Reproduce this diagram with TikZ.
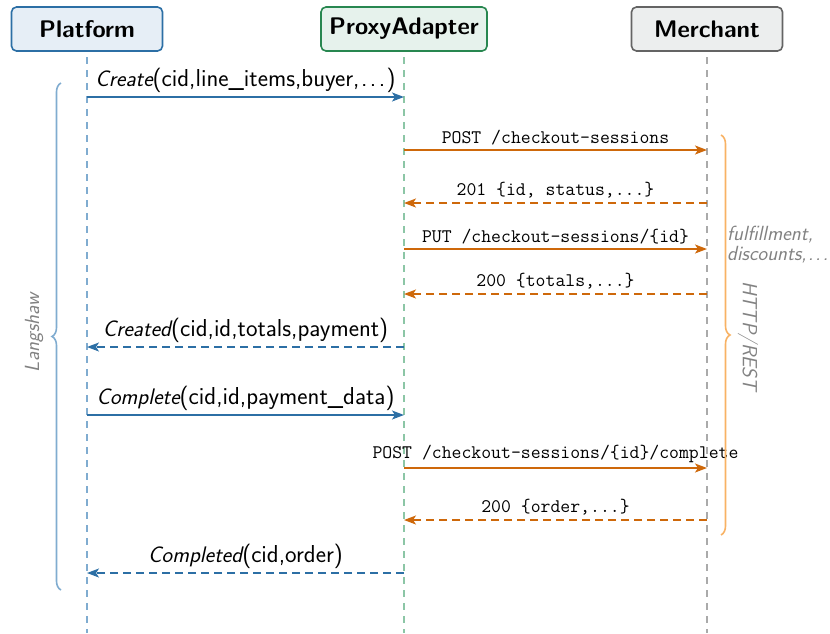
\RequirePackage{fix-cm}
\documentclass[tikz,border=0pt]{standalone}
\usetikzlibrary{arrows.meta,decorations.pathreplacing}
\definecolor{pblue}{RGB}{44,111,165}
\definecolor{pbluefill}{RGB}{230,238,246}
\definecolor{pbluelight}{RGB}{128,172,208}
\definecolor{agreen}{RGB}{40,135,80}
\definecolor{agreenfill}{RGB}{230,242,236}
\definecolor{agreenlight}{RGB}{140,198,166}
\definecolor{mgray}{RGB}{100,100,100}
\definecolor{mgrayfill}{RGB}{236,238,238}
\definecolor{mgraylight}{RGB}{170,170,170}
\definecolor{horange}{RGB}{206,104,10}
\definecolor{horangelight}{RGB}{248,178,100}
\definecolor{notegray}{RGB}{130,130,130}
\tikzset{
  hdr/.style={draw, line width=1.6pt, rounded corners=5pt, minimum width=151pt, minimum height=44pt,
    font=\sffamily\bfseries\fontsize{24}{28}\selectfont, inner sep=0pt},
  lifeline/.style={dash pattern=on 7pt off 6pt, line width=1.5pt},
  msgtip/.style={-{Stealth[length=12pt,width=9pt,inset=3pt]}},
  callmsg/.style={msgtip, pblue, line width=1.6pt},
  retmsg/.style={msgtip, pblue, line width=1.6pt, dash pattern=on 8pt off 5pt},
  httpmsg/.style={msgtip, horange, line width=1.6pt},
  httpret/.style={msgtip, horange, line width=1.6pt, dash pattern=on 8pt off 5pt},
  lbl/.style={above=0pt, text=black, font=\sffamily\fontsize{24.5}{28}\selectfont},
  mlbl/.style={above=1pt, text=black, font=\ttfamily\fontsize{19.2}{22}\selectfont},
  note/.style={text=notegray, font=\sffamily\itshape\fontsize{20.5}{20}\selectfont},
}
\newcommand{\opname}[1]{{\fontsize{22.5}{26}\selectfont\itshape #1}}
\newcommand{\spdots}{\kern0.06em.\kern0.1em.\kern0.1em.\kern0.06em}
\begin{document}
\begin{tikzpicture}[x=1pt,y=-1pt]
\useasboundingbox (0,0) rectangle (830,633);
% headers
\node[hdr, pblue, fill=pbluefill, text=black] (P) at (87,29) {Platform};
\node[hdr, agreen, fill=agreenfill, text=black, minimum width=166pt] (A) at (404,29) {ProxyAdapter};
\node[hdr, mgray, fill=mgrayfill, text=black] (M) at (707,29) {Merchant};
% lifelines
\coordinate (Pt) at (87,57); \coordinate (Pb) at (87,633);
\coordinate (At) at (404,57); \coordinate (Ab) at (404,633);
\coordinate (Mt) at (707,57); \coordinate (Mb) at (707,633);
\draw[lifeline, pbluelight] (Pt) -- (Pb);
\draw[lifeline, agreenlight] (At) -- (Ab);
\draw[lifeline, mgraylight] (Mt) -- (Mb);
% message coordinates
\foreach \n/\y in {1/97,2/150,3/203,4/249,5/294,6/347,7/415,8/468,9/520,10/573}{
  \coordinate (P\n) at (87,\y);
  \coordinate (A\n) at (404,\y);
  \coordinate (M\n) at (707,\y);
}
\draw[callmsg] (P1) -- node[lbl] {\opname{Create}(cid,line\_items,buyer,\spdots)} (A1);
\draw[httpmsg] (A2) -- node[mlbl] {POST /checkout-sessions} (M2);
\draw[httpret] (M3) -- node[mlbl] {201 \{id, status,...\}} (A3);
\draw[httpmsg] (A4) -- node[mlbl] {PUT /checkout-sessions/\{id\}} (M4);
\draw[httpret] (M5) -- node[mlbl] {200 \{totals,...\}} (A5);
\draw[retmsg] (A6) -- node[lbl] {\opname{Created}(cid,id,totals,payment)} (P6);
\draw[callmsg] (P7) -- node[lbl] {\opname{Complete}(cid,id,payment\_data)} (A7);
\draw[httpmsg] (A8) -- node[mlbl] {POST /checkout-sessions/\{id\}/complete} (M8);
\draw[httpret] (M9) -- node[mlbl] {200 \{order,...\}} (A9);
\draw[retmsg] (A10) -- node[lbl] {\opname{Completed}(cid,order)} (P10);
% braces
\coordinate (LBt) at (61,83); \coordinate (LBb) at (61,590);
\draw[pbluelight, line width=1.6pt, decorate, decoration={brace, amplitude=9pt}] (LBb) -- (LBt);
\node[note, rotate=90, inner sep=0pt] (lang) at (34,333) {Langshaw};
\coordinate (RBt) at (721,135); \coordinate (RBb) at (721,535);
\draw[horangelight, line width=1.6pt, decorate, decoration={brace, amplitude=9pt}] (RBt) -- (RBb);
\node[note, rotate=-90, inner sep=0pt] (http) at (748,336) {HTTP/REST};
\node[note, anchor=north west, align=left, inner sep=0pt] (ful) at (727,226) {fulfillment,\\discounts,\spdots};
\end{tikzpicture}
\end{document}
